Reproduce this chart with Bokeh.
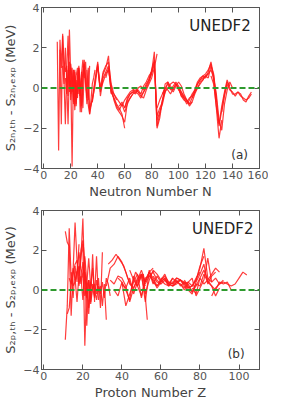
from bokeh.plotting import figure
from bokeh.layouts import column
from bokeh.models import Range1d, LinearAxis, FixedTicker, Label, Span, CustomJSTickFormatter
from bokeh.embed import file_html
from bokeh.resources import INLINE

# ---------------- data: top panel (S2n differences vs neutron number) ----------------
# each chain: (first N, step, values)
n_chains = [
    (10, 1, [2.3, -3.1, 2.4, 1.0, 2.7, 0.4, -1.8, 0.9, 2.6, -0.2, 0.4]),
    (12, 1, [1.9, -1.8, 2.6, 1.4, 0.8, 1.1, -0.4, 2.9, 0.6, -3.9, 0.9, 0.3, -0.6]),
    (14, 1, [1.1, 0.2, 2.0, 0.3, -1.8, 0.9, -0.3, 1.0, -0.8, 0.8, -0.9, 0.6, 1.0, -0.4, 0.8]),
    (16, 1, [0.5, -0.3, 0.8, 1.3, -0.6, 0.2, 0.9, -1.1, 0.4, -0.3, 0.9, -1.2, 0.7, 1.4, 0.5]),
    (18, 1, [0.9, 0.1, 1.2, 0.4, -0.7, 0.6, 0.2, -0.5, 1.0, 0.3, -0.9, 0.3, 1.1, 0.2, -0.8]),
    (20, 1, [1.0, -0.2, 0.3, 0.9, -0.8, 0.1, 1.1, -0.4, 0.5, -1.0, 0.8, 1.3, -0.1, -0.6, 1.1]),
    (22, 1, [0.4, -0.9, 0.6, 1.0, -0.3, 0.2, -1.2, 0.8, 1.4, 0.4, -0.5, 1.0, -1.3, -0.6, 0.2, 0.5, 0.9]),
    (28, 2, [0.3, 1.2, -0.4, -1.3, -0.5, 0.4, 1.2, -0.2, 0.7, 1.0, 1.6, -0.3]),
    (32, 2, [0.9, -1.1, -0.6, 0.1, 1.1, 0.0, 0.8, 1.1, 1.3, 0.2, -0.3, -0.6]),
    (36, 2, [-0.7, 0.3, 1.3, -0.4, 0.5, 0.8, 1.1, -0.2, -0.5, -0.8, -1.0, -1.3, -2.0]),
    (40, 2, [1.0, -0.1, 0.3, 0.7, 0.9, 0.1, -0.6, -1.0, -1.2, -1.4, -1.7, -0.7, -0.5, -0.3]),
    (46, 2, [0.5, 1.0, -0.2, -0.5, -0.9, -1.1, -0.8, -1.2, -0.8, -0.5, -0.3, -0.2, -0.1, -0.3]),
    (50, 2, [-0.1, -0.3, -0.5, -0.7, -0.9, -0.6, -0.4, -0.2, -0.1, 0.0, -0.2, -0.3, 0.1, 0.3, 0.6, 0.8]),
    (56, 2, [-0.9, -0.7, -1.0, -0.5, -0.3, -0.2, -0.1, -0.2, -0.4, -0.5, -0.1, 0.2, 0.5, 1.0, 1.7]),
    (60, 2, [-1.0, -0.6, -0.3, -0.2, -0.3, 0.0, 0.1, -0.1, 0.2, 0.4, 0.8, 1.8, -2.0, -1.5, -0.6, -0.1]),
    (66, 2, [-0.1, -0.2, -0.3, -0.5, -0.2, 0.1, 0.4, 0.9, 1.4, -1.9, -1.3, -0.6, -0.2, 0.3, 0.1, -0.1]),
    (72, 2, [-0.4, -0.2, 0.0, 0.3, 0.7, 1.2, -1.6, -1.2, -0.8, -0.2, 0.0, 0.2, 0.3, 0.2, -0.1, -0.3, -0.5]),
    (78, 2, [0.4, 0.8, 1.3, -1.4, -1.0, -0.7, 0.2, 0.3, -0.1, 0.1, 0.3, 0.1, -0.2, -0.4, -0.6, -0.8, -0.7]),
    (84, 2, [-1.0, -0.6, -0.3, 0.0, -0.1, -0.3, 0.0, 0.2, 0.0, -0.2, -0.5, -0.6, -0.9, -0.7, -0.3, 0.0, 0.2]),
    (88, 2, [-0.3, 0.0, 0.2, 0.0, -0.2, 0.1, 0.3, 0.1, -0.3, -0.6, -0.8, -0.5, -0.2, 0.2, 0.4, 0.5, 0.6, 0.7]),
    (96, 2, [-0.1, 0.2, 0.0, -0.4, -0.6, -0.7, -0.5, -0.4, -0.1, 0.2, 0.4, 0.6, 0.5, 0.8, 1.3, 0.6, -0.7]),
    (100, 2, [0.0, -0.4, -0.5, -0.8, -0.6, -0.3, -0.1, 0.3, 0.5, 0.6, 0.7, 0.9, 1.2, 0.4, -1.0, -2.5, -1.6]),
    (110, 2, [-0.5, -0.2, 0.0, 0.3, 0.4, 0.6, 0.5, 1.1, 0.7, -0.5, -1.9, -1.1, -0.3, 0.3, 0.1]),
    (116, 2, [0.2, 0.4, 0.6, 0.7, 0.9, 0.5, -0.3, -1.6, -2.1, -0.8, -0.1, 0.3, 0.0]),
    (124, 2, [0.6, 0.2, -0.9, -1.8, -0.9, -0.2, 0.4, 0.0, -0.3, -0.3, -0.2, -0.4, -0.5, -0.6, -0.5, -0.3]),
    (132, 2, [-1.2, -0.4, 0.2, -0.1, -0.2, -0.4, -0.2, -0.3, -0.6, -0.7, -0.4, -0.2]),
]

# ---------------- data: bottom panel (S2p differences vs proton number) ----------------
z_chains = [
    (11, 1, [-2.5, -0.8, 3.1, 0.6, -0.4, 1.2, 0.4, 2.3]),
    (11, 1, [2.95, 2.4, 2.2, -1.3, 1.0, 3.4, 1.5, 0.2, 1.6, 3.6, 0.1, -0.4]),
    (12, 1, [-1.2, -0.9, 0.4, 1.1, 0.6, -0.6, 0.8, 1.7, 2.3, -2.8, 0.3, 1.6, 0.2]),
    (13, 1, [0.6, 0.3, 0.8, 1.3, 1.5, 0.7, 2.0, 2.5, 1.4, -1.8, 0.5, -0.4, 1.8, -0.6]),
    (14, 1, [0.9, 0.2, 0.4, 1.0, 1.9, 1.1, 0.6, 1.7, 0.4, -0.9, 0.2, 1.1, -0.3, 1.7, -0.5]),
    (16, 1, [0.5, 0.9, 1.2, 0.3, 1.4, 0.8, -0.2, 0.5, -0.7, 0.1, 0.3, -0.2, 0.6, -0.9, 1.9]),
    (18, 1, [0.3, 0.7, -0.5, 0.9, 0.2, -1.2, 0.4, 0.1, -0.4, 0.5, -0.1, 0.2, -0.8, 0.3, -1.5]),
    (20, 1, [0.6, -0.3, 0.2, 0.5, -0.6, 0.3, 0.0, -0.5, 0.2, -0.2, 0.4, -0.4, 0.6, 0.3, -0.3]),
    (32, 2, [0.2, 1.1, 1.3, 1.7, 1.4, 0.9, 0.3, 0.1, 0.6, 0.8, 0.2]),
    (33, 2, [1.3, 1.5, 1.8, 1.5, 1.2, 0.6, 0.2, 0.9, 0.6, 0.8, -1.5]),
    (34, 2, [0.5, 0.3, 0.7, 0.6, 0.2, -0.6, 0.1, 0.5, 1.0, 0.4, 0.9, 1.1]),
    (36, 2, [0.0, -0.3, 0.4, -0.8, -0.2, 0.4, 0.8, -0.4, 0.6, 0.7, 0.9, 0.5, 0.3]),
    (38, 2, [0.6, 0.4, 0.0, -0.5, 0.7, 0.2, -0.3, 0.5, 0.9, 0.3, 0.7, 0.4, 0.6, 0.2]),
    (40, 2, [0.3, 0.1, 0.6, -0.2, 0.4, 0.8, -0.6, 1.0, 0.4, 0.2, 0.5, 0.8, 0.3, 0.6]),
    (44, 2, [1.0, 0.5, 0.2, 0.7, -0.2, 0.5, 1.0, 0.8, 0.5, 0.3, 0.2, 0.6, 0.4, 0.5]),
    (48, 2, [0.2, 0.8, 0.4, 0.9, 0.6, 0.2, 0.5, 0.7, 0.4, 0.3, 0.5, 0.2, 0.4, 0.3]),
    (52, 2, [0.3, 0.7, 0.5, 0.1, 0.4, 0.6, 0.3, 0.2, 0.4, 0.5, 0.3, 0.1, 0.2, 0.6, 0.9]),
    (56, 2, [0.7, 0.4, 0.3, 0.5, 0.2, 0.4, 0.6, 0.5, 0.3, 0.4, 0.2, 0.5, 1.2, 1.7]),
    (60, 2, [0.6, 0.5, 0.3, 0.2, 0.3, 0.5, 0.4, 0.1, 0.2, 0.5, 1.1, 2.1, 0.6, 0.4]),
    (64, 2, [0.4, 0.3, 0.6, 0.5, 0.2, 0.0, -0.2, 0.4, 0.8, 1.3, 0.3, 0.7, 0.9]),
    (66, 2, [0.2, 0.4, 0.3, 0.0, 0.3, -0.1, 0.2, 0.6, 1.0, 0.5, 0.8, 1.1, 0.9]),
    (70, 2, [0.3, 0.1, 0.4, 0.6, -0.3, 0.1, 0.5, 1.6, 0.4, 0.6, 0.3, 0.5]),
    (72, 2, [0.5, 0.2, -0.1, 0.3, 0.2, 0.8, 0.4, 0.2, -0.3, 0.1]),
    (76, 2, [0.1, -0.2, 0.6, 0.3, 0.5, 0.2, 0.0, 0.4, 0.3, 0.4, 0.0]),
    (86, 2, [-0.3, 0.1, 0.3, 0.4, 0.3, 0.2, 0.3, 0.6, 0.9, 0.75]),
]

y_ticks = [-4, -2, 0, 2, 4]
x_ticks_top = [0, 20, 40, 60, 80, 100, 120, 140, 160]
x_ticks_bottom = [0, 20, 40, 60, 80, 100]

FONT = "DejaVu Sans"
GRAY = "#555555"


def style_axis(ax, ticks, n_minor, show_labels=True):
    ax.ticker = FixedTicker(ticks=ticks, num_minor_ticks=n_minor)
    ax.major_tick_in = 5
    ax.major_tick_out = 0
    ax.minor_tick_in = 3
    ax.minor_tick_out = 0
    ax.axis_line_color = GRAY
    ax.major_tick_line_color = GRAY
    ax.minor_tick_line_color = GRAY
    ax.major_label_text_font = FONT
    ax.major_label_text_font_size = "11px"
    ax.major_label_text_color = GRAY
    ax.major_label_standoff = 2
    ax.axis_label_text_font = FONT
    ax.axis_label_text_font_size = "13px"
    ax.axis_label_text_font_style = "normal"
    ax.axis_label_text_color = "#444444"
    ax.axis_label_standoff = 2
    if not show_labels:
        ax.formatter = CustomJSTickFormatter(code="return ''")
        ax.major_label_standoff = 0


def make_panel(chains, xr, xticks, nx_minor, ny_minor, xlabel, ylabel, tag, tag_x, tag_y, name_x, name_y, h, top_border):
    p = figure(width=268, height=h, output_backend="svg", toolbar_location=None,
               x_range=Range1d(*xr), y_range=Range1d(-4, 4),
               min_border_right=9, min_border_top=top_border, min_border_left=0, min_border_bottom=0)
    p.xgrid.visible = False
    p.ygrid.visible = False
    p.outline_line_color = GRAY
    p.background_fill_color = "white"
    p.border_fill_color = "white"

    style_axis(p.xaxis[0], xticks, nx_minor)
    style_axis(p.yaxis[0], y_ticks, ny_minor)
    p.xaxis[0].axis_label = xlabel
    p.yaxis[0].axis_label = ylabel

    top_ax = LinearAxis()
    style_axis(top_ax, xticks, nx_minor, show_labels=False)
    p.add_layout(top_ax, "above")
    right_ax = LinearAxis()
    style_axis(right_ax, y_ticks, ny_minor, show_labels=False)
    p.add_layout(right_ax, "right")

    for start, step, vals in chains:
        xs = [start + step * i for i in range(len(vals))]
        p.line(xs, vals, line_color="#ff1a1a", line_width=1.2, line_alpha=0.85)

    p.add_layout(Span(location=0, dimension="width", line_color="#2e9a2e",
                      line_dash="6 3", line_width=1.8))

    p.add_layout(Label(x=name_x, y=name_y, text="UNEDF2", text_align="right", text_baseline="top",
                       text_font=FONT, text_font_size="15px", text_color="#222222"))
    p.add_layout(Label(x=tag_x, y=tag_y, text=tag, text_align="right", text_baseline="bottom",
                       text_font=FONT, text_font_size="12px", text_color="#333333"))
    return p


p1 = make_panel(n_chains, (-1.7, 160), x_ticks_top, 1, 1, "Neutron Number N",
                "S\u2082\u2099,\u209c\u2095 - S\u2082\u2099,\u2091\u2093\u209a (MeV)",
                "(a)", 151.5, -3.7, 153.5, 3.55, 201, 7)
p2 = make_panel(z_chains, (-1.2, 110.5), x_ticks_bottom, 3, 3, "Proton Number Z",
                "S\u2082\u209a,\u209c\u2095 - S\u2082\u209a,\u2091\u2093\u209a (MeV)",
                "(b)", 102.9, -3.55, 107.4, 3.52, 201, 9)

layout = column(p1, p2, spacing=0)
open("out.html", "w").write(file_html(layout, INLINE))
